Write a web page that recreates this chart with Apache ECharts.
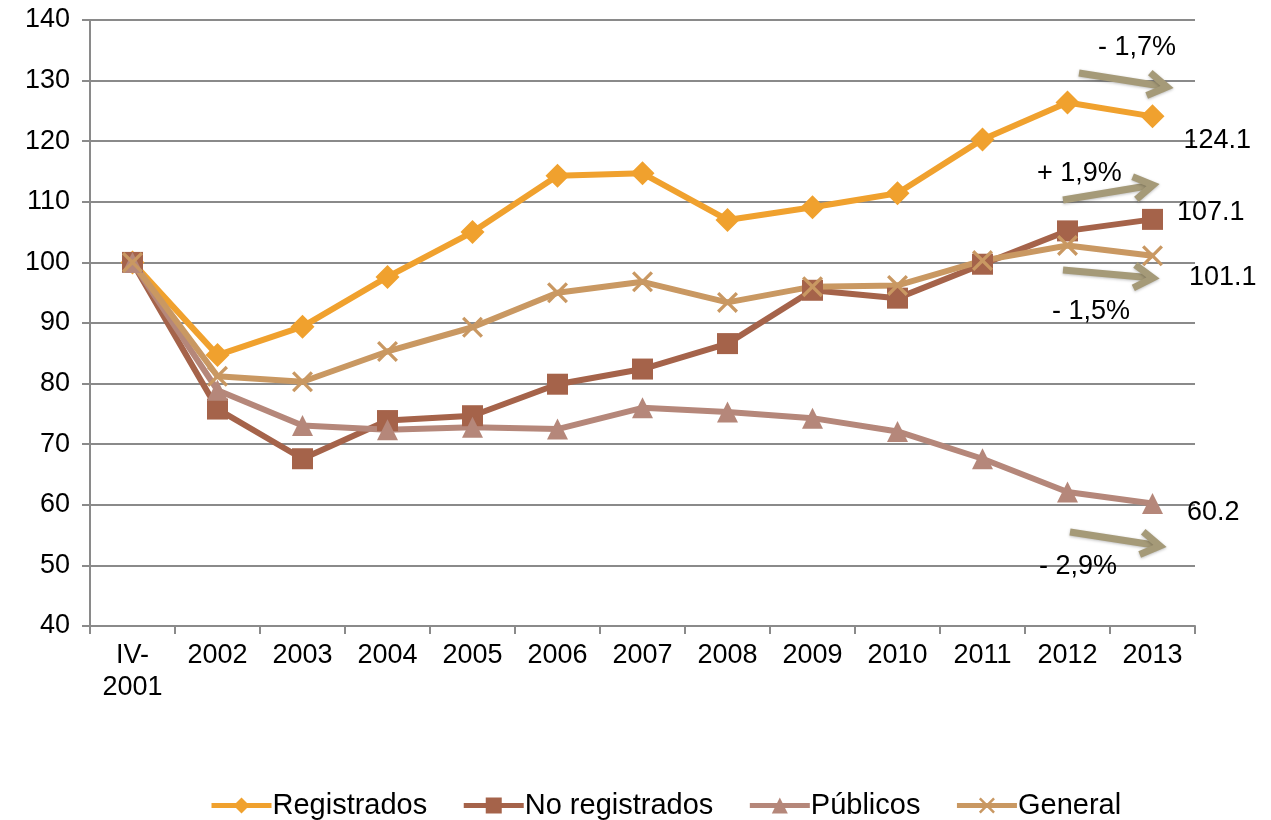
<!DOCTYPE html>
<html>
<head>
<meta charset="utf-8">
<script src="https://cdn.jsdelivr.net/npm/echarts@6/dist/echarts.min.js"></script>
<style>html,body{margin:0;padding:0;background:#fff}#c{width:1271px;height:820px}</style>
</head>
<body>
<div id="c"></div>
<script>
const categories = ['IV-\n2001','2002','2003','2004','2005','2006','2007','2008','2009','2010','2011','2012','2013'];
const registrados   = [100, 84.7, 89.4, 97.6, 105.0, 114.3, 114.7, 107.0, 109.1, 111.4, 120.3, 126.4, 124.1];
const noRegistrados = [100, 75.8, 67.6, 73.9, 74.7, 79.9, 82.4, 86.6, 95.4, 94.1, 99.7, 105.2, 107.1];
const publicos      = [100, 78.9, 73.1, 72.4, 72.8, 72.5, 76.0, 75.3, 74.3, 72.1, 67.6, 62.1, 60.2];
const general       = [100, 81.2, 80.3, 85.3, 89.3, 95.0, 96.8, 93.4, 96.0, 96.2, 100.3, 102.8, 101.1];
const yTicks = { min: 40, max: 140, interval: 10 };
const endLabelOffsets = { registrados: [19, 24], noRegistrados: [14, -7], publicos: [24, 9], general: [26, 22] };
const annotations = [
  { text: '- 1,7%', tx: 1098, ty: 48, from: [1079, 73], to: [1167, 87] },
  { text: '+ 1,9%', tx: 1037, ty: 174, from: [1063, 200], to: [1153, 185] },
  { text: '- 1,5%', tx: 1052, ty: 312, from: [1063, 270], to: [1153, 278] },
  { text: '- 2,9%', tx: 1039, ty: 567, from: [1070, 532], to: [1160, 546] }
];

const FONT = 'Liberation Sans, Arial, sans-serif';
const X_PATH = 'path://M0,1.1 L1.1,0 L5,3.9 L8.9,0 L10,1.1 L6.1,5 L10,8.9 L8.9,10 L5,6.1 L1.1,10 L0,8.9 L3.9,5 Z';

function withEndLabel(arr, off) {
  return arr.map((v, i) => i === arr.length - 1 ? {
    value: v,
    label: { show: true, position: 'right', distance: 0, offset: off, formatter: v.toFixed(1), color: '#000', fontSize: 27, fontFamily: FONT }
  } : v);
}

function mkSeries(name, data, color, symbol, size, off) {
  return {
    name, type: 'line', data: withEndLabel(data, off),
    symbol, symbolSize: size, showSymbol: true,
    lineStyle: { color, width: 6 },
    itemStyle: { color },
    emphasis: { disabled: true },
    animation: false
  };
}

const arrowColor = '#A59A78';
const graphics = [];
annotations.forEach(a => {
  graphics.push({ type: 'text', x: a.tx, y: a.ty, style: { text: a.text, fontSize: 27, fontFamily: FONT, fill: '#000', textVerticalAlign: 'middle' }, z: 10 });
  const [x1, y1] = a.from, [x2, y2] = a.to;
  const ang = Math.atan2(y2 - y1, x2 - x1);
  const L = 22, spread = 0.55;
  const h1 = [x2 - L * Math.cos(ang - spread), y2 - L * Math.sin(ang - spread)];
  const h2 = [x2 - L * Math.cos(ang + spread), y2 - L * Math.sin(ang + spread)];
  graphics.push({ type: 'line', shape: { x1, y1, x2: x2 - 3 * Math.cos(ang), y2: y2 - 3 * Math.sin(ang) }, style: { stroke: arrowColor, lineWidth: 7, lineCap: 'butt', shadowBlur: 3, shadowColor: 'rgba(0,0,0,0.25)', shadowOffsetY: 1 }, z: 10 });
  graphics.push({ type: 'polyline', shape: { points: [h1, [x2, y2], h2] }, style: { stroke: arrowColor, lineWidth: 7, fill: null, lineJoin: 'miter', shadowBlur: 3, shadowColor: 'rgba(0,0,0,0.25)', shadowOffsetY: 1 }, z: 10 });
});

const chart = echarts.init(document.getElementById('c'), null, { renderer: 'canvas' });
chart.setOption({
  animation: false,
  backgroundColor: '#fff',
  grid: { left: 90, right: 76, top: 20, bottom: 194, containLabel: false },
  xAxis: {
    type: 'category', data: categories, boundaryGap: true,
    axisLine: { lineStyle: { color: '#8a8a8a', width: 2 } },
    axisTick: { show: true, length: 8, lineStyle: { color: '#8a8a8a', width: 2 }, alignWithLabel: false },
    axisLabel: { color: '#000', fontSize: 27, fontFamily: FONT, margin: 14, lineHeight: 32, interval: 0 },
    splitLine: { show: false }
  },
  yAxis: {
    type: 'value', min: yTicks.min, max: yTicks.max, interval: yTicks.interval,
    axisLine: { show: true, lineStyle: { color: '#8a8a8a', width: 2 } },
    axisTick: { show: true, length: 8, lineStyle: { color: '#8a8a8a', width: 2 } },
    axisLabel: { color: '#000', fontSize: 27, fontFamily: FONT, margin: 20 },
    splitLine: { show: true, lineStyle: { color: '#8a8a8a', width: 2 } }
  },
  legend: {
    left: 204, top: 786, itemGap: 34, itemWidth: 60, itemHeight: 20,
    lineStyle: { width: 5 },
    textStyle: { color: '#000', fontSize: 29, fontFamily: FONT, padding: [0, 0, 0, -4] },
    data: ['Registrados', 'No registrados', 'Públicos', 'General']
  },
  series: [
    mkSeries('Registrados', registrados, '#F0A12E', 'diamond', 24, endLabelOffsets.registrados),
    mkSeries('No registrados', noRegistrados, '#A5634A', 'rect', 21, endLabelOffsets.noRegistrados),
    mkSeries('Públicos', publicos, '#B5877A', 'triangle', 21, endLabelOffsets.publicos),
    mkSeries('General', general, '#C99862', X_PATH, 21, endLabelOffsets.general)
  ],
  graphic: graphics
});
</script>
</body>
</html>
